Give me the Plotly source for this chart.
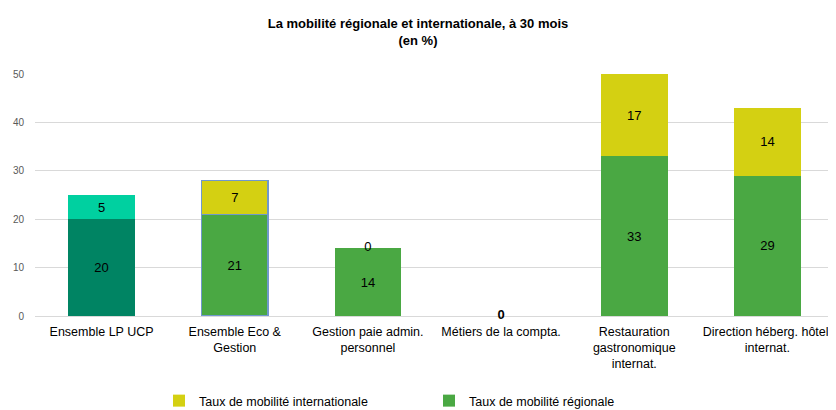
import plotly.graph_objects as go

categories = ["Ensemble LP UCP", "Ensemble Eco &<br>Gestion", "Gestion paie admin.<br>personnel",
              "Métiers de la compta.", "Restauration<br>gastronomique<br>internat.",
              "Direction héberg. hôtel.<br>internat."]
regional = [20, 21, 14, 0, 33, 29]
international = [5, 7, 0, 0, 17, 14]
y_ticks = [0, 10, 20, 30, 40, 50]

SANS = "Liberation Sans, Arial"

C_REG = "#4AA843"
C_INT = "#D4D012"
C_LP_REG = "#008463"
C_LP_INT = "#00D0A0"
OUTLINE = "#7098CC"

# page body has an 8px margin: the figure is drawn from (8, 8)
OFF = 8
W, H = 836 - OFF, 410 - OFF
ML, MR, MT, MB = 35 - OFF, 2, 74 - OFF, 94
PH = H - MT - MB
PW = W - ML - MR

fig = go.Figure()

def txt(vals):
    return [str(v) if v > 0 else "" for v in vals]

def add_pair(xs, regs, ints, c_reg, c_int, legend, lw=0):
    fig.add_bar(x=xs, y=regs, marker_color=c_reg, name="Taux de mobilité régionale",
                showlegend=legend, legendrank=2, marker_line_width=lw, marker_line_color=OUTLINE,
                text=txt(regs), textposition="inside", insidetextanchor="middle")
    fig.add_bar(x=xs, y=ints, marker_color=c_int, name="Taux de mobilité internationale",
                showlegend=legend, legendrank=1, marker_line_width=lw, marker_line_color=OUTLINE,
                text=txt(ints), textposition="inside", insidetextanchor="middle")

add_pair(categories[:1], regional[:1], international[:1], C_LP_REG, C_LP_INT, False)
add_pair(categories[1:2], regional[1:2], international[1:2], C_REG, C_INT, False, lw=1.5)
add_pair(categories[2:], regional[2:], international[2:], C_REG, C_INT, True)

# labels for zero-height segments (both zero -> one overlapped, bolder label)
zx, zy, zt = [], [], []
for c, r, i in zip(categories, regional, international):
    if r == 0 and i == 0:
        zx.append(c); zy.append(0); zt.append("<b>0</b>")
    elif i == 0:
        zx.append(c); zy.append(r); zt.append("0")
    elif r == 0:
        zx.append(c); zy.append(0); zt.append("0")
fig.add_trace(go.Scatter(x=zx, y=zy, mode="text", text=zt, showlegend=False,
                         textposition="middle center",
                         textfont=dict(family=SANS, size=13, color="#000"), hoverinfo="skip",
                         cliponaxis=False))

fig.update_traces(textfont=dict(family=SANS, size=13, color="#000"), constraintext="none",
                  selector=dict(type="bar"))

fig.update_layout(
    width=W, height=H,
    barmode="stack", bargap=0.5,
    paper_bgcolor="white", plot_bgcolor="white",
    margin=dict(l=ML, r=MR, t=MT, b=MB, autoexpand=False),
    title=dict(text="<b>La mobilité régionale et internationale, à 30 mois<br>(en %)</b>",
               x=(418 - OFF) / W, xref="container", xanchor="center", yref="container",
               y=1 - (28 - OFF) / H, yanchor="middle",
               font=dict(family=SANS, size=13, color="#000")),
    legend=dict(orientation="h", x=(159 - ML - OFF) / PW, xanchor="left",
                y=-(401 - 316) / PH, yanchor="middle", traceorder="normal",
                entrywidth=225, entrywidthmode="pixels",
                font=dict(family=SANS, size=12.5, color="#000"), itemwidth=30),
    xaxis=dict(tickfont=dict(family=SANS, size=12.5, color="#000"), showgrid=False,
               showline=False, ticks="", ticklabelstandoff=6, automargin=False,
               categoryorder="array", categoryarray=categories),
    yaxis=dict(range=[0, 50], tickvals=y_ticks, showgrid=True, gridcolor="#D9D9D9",
               gridwidth=1, zeroline=True, zerolinecolor="#D9D9D9", zerolinewidth=1,
               tickfont=dict(family=SANS, size=10, color="#595959"), ticklabelstandoff=10,
               automargin=False),
)

fig.write_html("out.html")
